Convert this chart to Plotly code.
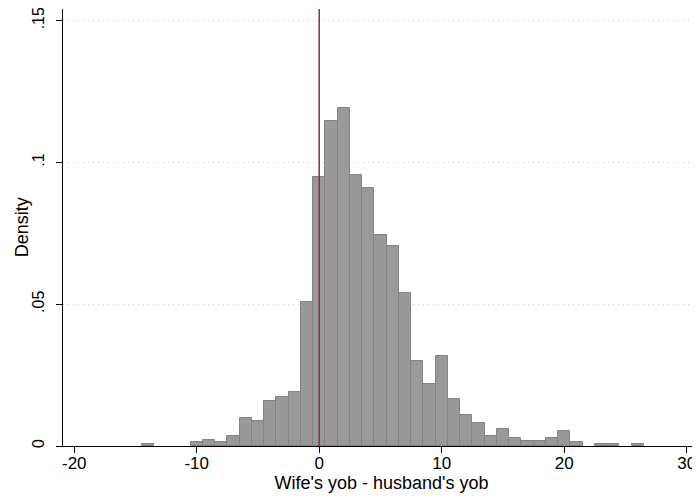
import plotly.graph_objects as go

bin_centers = [-14, -10, -9, -8, -7, -6, -5, -4, -3, -2, -1, 0, 1, 2, 3, 4, 5, 6, 7, 8, 9, 10,
               11, 12, 13, 14, 15, 16, 17, 18, 19, 20, 21, 23, 24, 26]
density = [0.0007, 0.0014, 0.0021, 0.0014, 0.0035, 0.0097, 0.0088, 0.0158, 0.0173, 0.0189,
           0.0509, 0.0948, 0.1145, 0.1192, 0.0955, 0.0910, 0.0744, 0.0705, 0.0538, 0.0301,
           0.0218, 0.0317, 0.0164, 0.0111, 0.0080, 0.0035, 0.0059, 0.0027, 0.0019, 0.0019,
           0.0027, 0.0052, 0.0013, 0.0006, 0.0006, 0.0006]
x_ticks = [-20, -10, 0, 10, 20, 30]
x_tick_labels = ["-20", "-10", "0", "10", "20", "30"]
y_ticks = [0, 0.05, 0.1, 0.15]
y_tick_labels = ["0", ".05", ".1", ".15"]
ref_line_x = 0

font_family = "Liberation Sans, Arial, sans-serif"

# page body has an 8px default margin; figure sized/offset to compensate
W, H = 692, 492
ML, MR, MT, MB = 55, 0, 1, 54

fig = go.Figure()
fig.add_trace(go.Bar(
    x=bin_centers, y=density, width=1,
    marker=dict(color="#999999", line=dict(color="#828282", width=1)),
    showlegend=False,
))
fig.add_shape(type="line", x0=ref_line_x, x1=ref_line_x, xref="x", y0=0, y1=1, yref="paper",
              line=dict(color="#8f2d3a", width=1.5))
fig.add_annotation(text="Density", textangle=-90, font=dict(size=18),
                   xref="paper", yref="paper", x=(13.7 - ML) / (W - ML - MR), y=0.5,
                   xanchor="center", yanchor="middle", showarrow=False)

fig.update_layout(
    width=W, height=H,
    margin=dict(l=ML, r=MR, t=MT, b=MB),
    plot_bgcolor="white", paper_bgcolor="white",
    bargap=0,
    font=dict(family=font_family, size=17, color="black"),
    xaxis=dict(
        range=[-20.92, 31.09], tickvals=x_ticks, ticktext=x_tick_labels,
        automargin=False, ticklabeloverflow="allow",
        showgrid=False, zeroline=False,
        showline=True, linecolor="black", linewidth=1,
        ticks="outside", ticklen=6, tickcolor="black", ticklabelstandoff=-4,
        title=dict(text="Wife's yob - husband's yob", font=dict(size=18), standoff=0),
    ),
    yaxis=dict(
        range=[0, 0.1541], tickvals=y_ticks, ticktext=y_tick_labels, tickangle=-90,
        tickfont=dict(size=16),
        automargin=False, ticklabeloverflow="allow",
        showgrid=True, gridcolor="#c8c8c8", griddash="1px,4px", gridwidth=1,
        zeroline=False,
        showline=True, linecolor="black", linewidth=1,
        ticks="outside", ticklen=6, tickcolor="black", ticklabelstandoff=6,
    ),
)

fig.write_html("out.html")
